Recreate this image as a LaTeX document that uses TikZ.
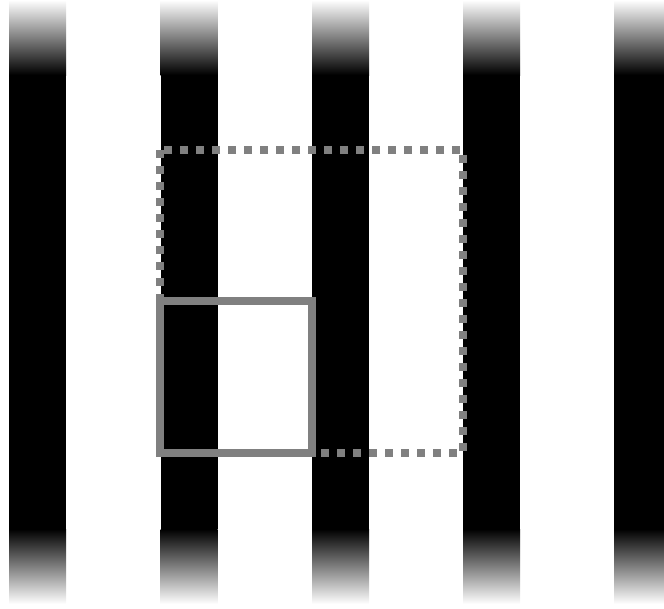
\documentclass[tikz,border=0pt]{standalone}
\usepackage{tikz}
\begin{document}
\begin{tikzpicture}[
    x=1pt, y=-1pt,
    bar/.style={fill=black},
    fadein/.style={top color=white, bottom color=black},
    fadeout/.style={top color=black, bottom color=white},
    window/.style={draw=gray, line width=7.5pt},
    shifted/.style={draw=gray, line width=7.5pt, dash pattern=on 8pt off 8pt}
]
    \useasboundingbox (0,0) rectangle (664,608);
    % stripes
    \foreach \x in {9,160.5,312,463,614} {
        \shade[fadein] (\x,0) rectangle ++(57,75);
        \fill[bar] (\x,75) rectangle ++(57,454);
        \shade[fadeout] (\x,529) rectangle ++(57,75);
    }
    % windows
    \draw[shifted] (160,150) rectangle (463,453);
    \draw[window] (160,301) rectangle (312,453);
\end{tikzpicture}
\end{document}
